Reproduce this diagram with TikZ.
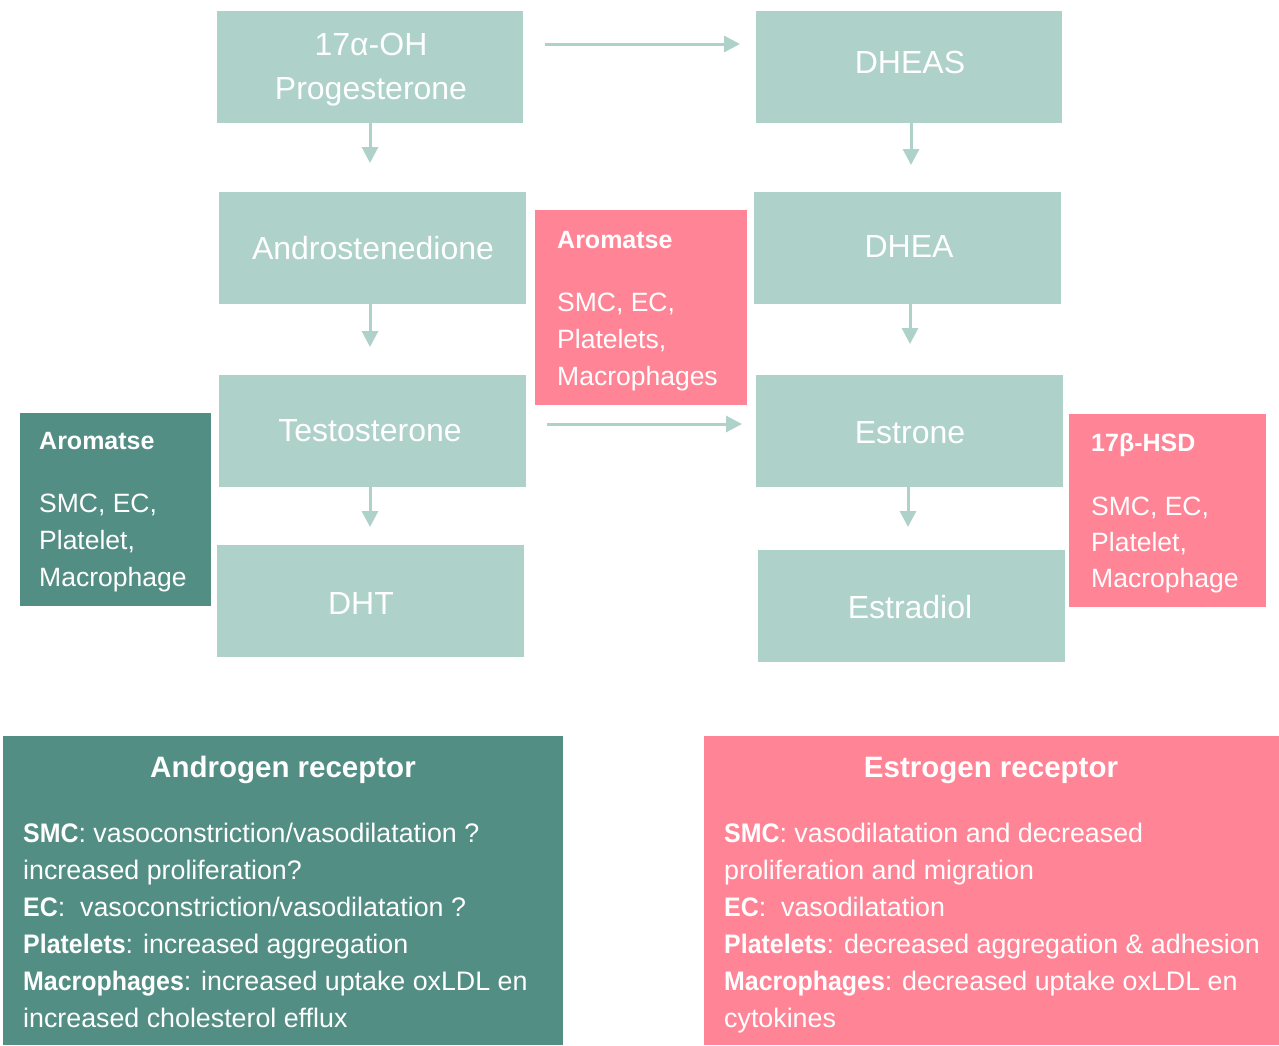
\documentclass[tikz,border=0pt]{standalone}
\usepackage{fontspec}
\setmainfont{Liberation Sans}
\newfontfamily\condfamily{Liberation Sans}[FakeStretch=0.93]
\newcommand{\keyword}[1]{{\condfamily\bfseries #1}}
\usetikzlibrary{arrows.meta}
\definecolor{mint}{HTML}{AED1CA}
\definecolor{pine}{HTML}{528E84}
\definecolor{rose}{HTML}{FF8496}
\begin{document}
\begin{tikzpicture}[x=1pt,y=-1pt,
  panel/.style={rectangle, inner sep=0pt, outer sep=0pt, draw=none},
  stage/.style={panel, fill=mint, minimum width=307pt, minimum height=112pt},
  stagelbl/.style={anchor=base, inner sep=0pt, text=white, font=\fontsize{32}{38}\selectfont},
  flow/.style={draw=mint, line width=3pt, -{Triangle[length=16pt,width=16pt]}},
  celltitle/.style={anchor=base west, inner sep=0pt, text=white, font=\fontsize{25}{30}\selectfont\bfseries},
  cellline/.style={anchor=base west, inner sep=0pt, text=white, font=\fontsize{26.5}{32}\selectfont},
  rectitle/.style={anchor=base, inner sep=0pt, text=white, font=\fontsize{29.5}{36}\selectfont\bfseries},
  recline/.style={anchor=base west, inner sep=0pt, text=white, font=\fontsize{26.8}{37}\selectfont},
]
\useasboundingbox (0,0) rectangle (1279,1045);

% steroid pathway stages
\node[stage, minimum width=306pt] (prog)  at (370,67)    {};
\node[stage, minimum width=306pt] (dheas) at (909,67)    {};
\node[stage] (andro)  at (372.5,248) {};
\node[stage] (dhea)   at (907.5,248) {};
\node[stage] (testo)  at (372.5,431) {};
\node[stage] (estrone) at (909.5,431) {};
\node[stage] (dht)    at (370.5,601) {};
\node[stage] (estradiol) at (911.5,606) {};

\node[stagelbl] (progA) at (371,55)  {17α-OH};
\node[stagelbl] (progB) at (371,99)  {Progesterone};
\node[stagelbl] (dheasL) at (910,73.5) {DHEAS};
\node[stagelbl] (androL) at (373,259) {Androstenedione};
\node[stagelbl] (dheaL)  at (909,257.5) {DHEA};
\node[stagelbl] (testoL) at (370,441) {Testosterone};
\node[stagelbl] (estroneL) at (910,443) {Estrone};
\node[stagelbl] (dhtL)   at (361,614) {DHT};
\node[stagelbl] (estradiolL) at (910,618) {Estradiol};

% enzyme panels
\node[panel, fill=rose, minimum width=212pt, minimum height=195pt] (aroR) at (641,307.5) {};
\node[celltitle] (aroRt) at (557,248) {Aromatse};
\node[cellline] (aroR1) at (557,311) {SMC, EC,};
\node[cellline] (aroR2) at (557,348) {Platelets,};
\node[cellline] (aroR3) at (557,385) {Macrophages};

\node[panel, fill=pine, minimum width=191pt, minimum height=193pt] (aroG) at (115.5,509.5) {};
\node[celltitle] (aroGt) at (39,449) {Aromatse};
\node[cellline] (aroG1) at (39,512) {SMC, EC,};
\node[cellline] (aroG2) at (39,549) {Platelet,};
\node[cellline] (aroG3) at (39,586) {Macrophage};

\node[panel, fill=rose, minimum width=197pt, minimum height=193pt] (hsd) at (1167.5,510.5) {};
\node[celltitle] (hsdt) at (1091,451) {17β-HSD};
\node[cellline] (hsd1) at (1091,515) {SMC, EC,};
\node[cellline] (hsd2) at (1091,551) {Platelet,};
\node[cellline] (hsd3) at (1091,587) {Macrophage};

% receptor panels
\node[panel, fill=pine, minimum width=560pt, minimum height=309pt] (andrec) at (283,890.5) {};
\node[rectitle] (andrecT) at (283,777) {Androgen receptor};
\node[recline] (ar1) at (23,842)  {\keyword{SMC}: vasoconstriction/vasodilatation ?};
\node[recline] (ar2) at (23,879)  {increased proliferation?};
\node[recline] (ar3) at (23,916)  {\keyword{EC}:\ \ vasoconstriction/vasodilatation ?};
\node[recline] (ar4) at (23,953)  {\keyword{Platelets}: increased aggregation};
\node[recline] (ar5) at (23,990)  {\keyword{Macrophages}: increased uptake oxLDL en};
\node[recline] (ar6) at (23,1027) {increased cholesterol efflux};

\node[panel, fill=rose, minimum width=575pt, minimum height=309pt] (estrec) at (991.5,890.5) {};
\node[rectitle] (estrecT) at (991,777) {Estrogen receptor};
\node[recline] (er1) at (724,842)  {\keyword{SMC}: vasodilatation and decreased};
\node[recline] (er2) at (724,879)  {proliferation and migration};
\node[recline] (er3) at (724,916)  {\keyword{EC}:\ \ vasodilatation};
\node[recline] (er4) at (724,953)  {\keyword{Platelets}: decreased aggregation \& adhesion};
\node[recline] (er5) at (724,990)  {\keyword{Macrophages}: decreased uptake oxLDL en};
\node[recline] (er6) at (724,1027) {cytokines};

% arrow ends
\coordinate (e1) at (370,163);
\coordinate (e2) at (911,165);
\coordinate (e3) at (370,347);
\coordinate (e4) at (910,344);
\coordinate (e5) at (370,527);
\coordinate (e6) at (908,527);
\coordinate (h1s) at (545,44);
\coordinate (h1e) at (740,44);
\coordinate (h2s) at (547,424);
\coordinate (h2e) at (742,424);

% conversions
\draw[flow] (e1 |- prog.south) -- (e1);
\draw[flow] (e2 |- dheas.south) -- (e2);
\draw[flow] (e3 |- andro.south) -- (e3);
\draw[flow] (e4 |- dhea.south) -- (e4);
\draw[flow] (e5 |- testo.south) -- (e5);
\draw[flow] (e6 |- estrone.south) -- (e6);
\draw[flow] (h1s) -- (h1e);
\draw[flow] (h2s) -- (h2e);
\end{tikzpicture}
\end{document}
